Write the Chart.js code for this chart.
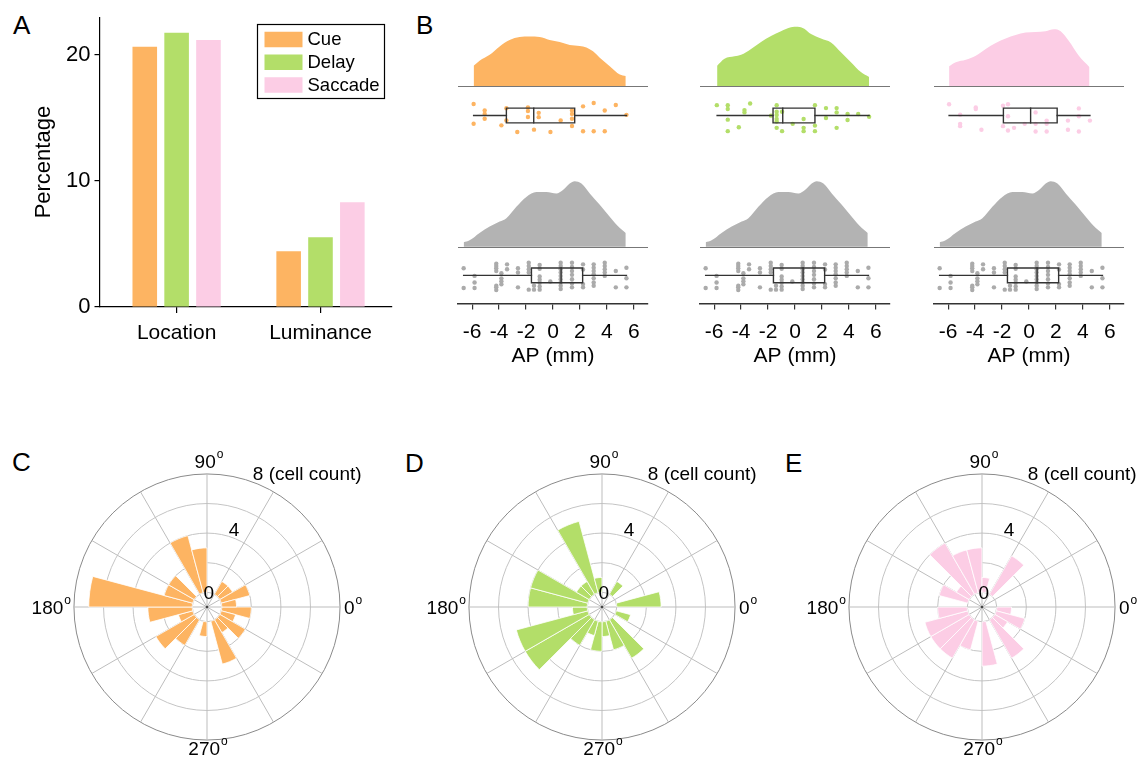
<!DOCTYPE html>
<html>
<head>
<meta charset="utf-8">
<script src="https://cdn.jsdelivr.net/npm/chart.js@4.4.1/dist/chart.umd.min.js"></script>
<style>
  html, body { margin: 0; padding: 0; background: #fff; }
  body { width: 1142px; height: 764px; position: relative; overflow: hidden;
         font-family: "Liberation Sans", Arial, sans-serif; }
  canvas { position: absolute; }
  .panel { position: absolute; font-size: 26px; line-height: 26px; color: #000; }
</style>
</head>
<body>
<div class="panel" style="left:13px;top:12px">A</div>
<div class="panel" style="left:416px;top:12px">B</div>
<div class="panel" style="left:12px;top:449px">C</div>
<div class="panel" style="left:405px;top:450px">D</div>
<div class="panel" style="left:785px;top:450px">E</div>

<canvas id="chartA" width="400" height="370" style="left:0;top:0"></canvas>
<canvas id="chartB1" width="240" height="370" style="left:433px;top:0"></canvas>
<canvas id="chartB2" width="240" height="370" style="left:675px;top:0"></canvas>
<canvas id="chartB3" width="240" height="370" style="left:909px;top:0"></canvas>
<canvas id="chartC" width="400" height="340" style="left:7px;top:437px"></canvas>
<canvas id="chartD" width="400" height="340" style="left:402px;top:437px"></canvas>
<canvas id="chartE" width="400" height="340" style="left:782px;top:437px"></canvas>

<script>
// ---------- A: share of tuned cells per epoch ----------
const tuningTypes = ['Location', 'Luminance'];
const epochNames = ['Cue', 'Delay', 'Saccade'];
const pctCue = [20.66, 4.42];
const pctDelay = [21.76, 5.53];
const pctSaccade = [21.2, 8.32];
const pctTicks = [0, 10, 20];

// ---------- B: AP position of tuned cells ----------
const apTicks = [-6, -4, -2, 0, 2, 4, 6];

const cueDensX = [-5.89, -5.45, -4.70, -3.96, -3.22, -2.48, -1.74, -0.99, -0.25, 0.50, 1.24, 1.98, 2.48, 2.97, 3.47, 4.21, 4.96, 5.40];
const cueDensY = [0.041, 0.051, 0.063, 0.080, 0.093, 0.099, 0.100, 0.099, 0.093, 0.089, 0.083, 0.081, 0.078, 0.070, 0.057, 0.040, 0.023, 0.020];
const delayDensX = [-5.78, -5.23, -4.49, -4.00, -3.26, -2.52, -1.78, -1.04, -0.30, 0.20, 0.69, 1.19, 1.93, 2.67, 3.41, 4.15, 4.89, 5.50];
const delayDensY = [0.041, 0.055, 0.060, 0.063, 0.075, 0.089, 0.101, 0.111, 0.119, 0.120, 0.116, 0.105, 0.096, 0.088, 0.068, 0.048, 0.028, 0.018];
const saccadeDensX = [-5.93, -5.43, -4.69, -3.95, -3.21, -2.47, -1.73, -0.99, -0.25, 0.49, 1.23, 1.85, 2.35, 2.96, 3.70, 4.49];
const saccadeDensY = [0.040, 0.048, 0.053, 0.061, 0.075, 0.087, 0.096, 0.103, 0.108, 0.109, 0.111, 0.115, 0.111, 0.091, 0.061, 0.038];
const allDensX = [-6.63, -6.19, -5.45, -4.70, -3.96, -3.46, -2.72, -1.98, -1.23, -0.49, 0.25, 0.74, 1.24, 1.61, 2.11, 2.73, 3.47, 4.21, 4.96, 5.40];
const allDensY = [0.009, 0.013, 0.028, 0.041, 0.051, 0.058, 0.081, 0.101, 0.111, 0.111, 0.108, 0.115, 0.128, 0.133, 0.128, 0.108, 0.085, 0.061, 0.038, 0.028];

// box stats: [lower whisker, Q1, median, Q3, upper whisker]
const cueBox = [-5.89, -3.46, -1.43, 1.61, 5.45];
const delayBox = [-5.78, -1.63, -0.91, 1.48, 5.50];
const saccadeBox = [-5.93, -1.90, 0.12, 2.09, 4.52];
const allBox = [-6.63, -1.60, 0.60, 2.20, 5.45];

// cell AP positions and vertical jitter (box half-height = 1)
const cueDotsX = [-5.89, -5.89, -5.07, -5.07, -5.07, -3.83, -3.46, -3.46, -2.65, -1.86, -1.86, -1.86, -1.41, -1.06, -1.06, -0.19, 0.57, 1.41, 1.41, 1.41, 1.41, 2.23, 2.23, 3.02, 3.02, 3.84, 3.84, 4.66, 5.45];
const cueDotsJ = [1.56, -1.11, 0.67, 0.22, -0.44, -1.33, 0.98, -0.67, -2.22, 1.1, 0.6, -0.2, -1.91, 0.36, -0.22, -2.22, -0.67, 0.67, 0.22, -0.44, -1.42, 1.24, -2.13, 1.69, -2.13, 0.67, -2.13, 1.42, 0.09];
const delayDotsX = [-5.80, -4.99, -4.99, -4.99, -4.99, -4.17, -3.75, -3.75, -3.33, -1.78, -1.36, -1.36, -1.36, -1.36, -1.36, -1.36, -0.96, -0.96, -0.17, 0.64, 0.64, 0.64, 1.48, 1.48, 1.48, 2.30, 2.30, 3.09, 3.09, 3.09, 3.90, 3.90, 4.69, 5.50];
const delayDotsJ = [1.4, 1.4, 0.87, -0.56, -2.11, -1.58, 0.73, 0.42, 1.62, -0.02, 1.4, 0.51, 0.07, -0.47, -0.82, -1.67, 0.51, -2.11, -1.13, -0.47, -1.67, -2.11, 1.4, -1.36, -2.11, 1.0, -0.33, 1.0, 0.42, -1.67, 0.2, -0.6, 0.2, -0.16];
const saccadeDotsX = [-5.93, -5.11, -5.11, -5.11, -3.95, -3.95, -3.53, -1.93, -1.93, -1.56, -1.56, -1.56, -1.11, -0.32, 0.49, 0.49, 0.49, 1.31, 1.31, 1.31, 2.89, 2.89, 3.70, 3.70, 3.70, 4.52];
const saccadeDotsJ = [1.53, 0.11, -1.13, -1.44, 1.09, 0.87, -1.93, 1.31, -1.44, 1.53, -0.11, -2.02, -1.67, -1.13, 0.42, -1.13, -2.16, -0.69, -1.13, -2.16, -0.69, -1.93, 0.96, -0.11, -2.16, -0.69];
const allDotsX = [-6.63, -6.63, -5.82, -5.82, -5.82, -4.21, -4.21, -4.21, -4.21, -4.21, -4.21, -4.21, -3.83, -3.83, -3.83, -3.83, -3.41, -3.41, -2.60, -2.60, -2.60, -1.80, -1.80, -1.80, -1.80, -1.80, -1.41, -1.41, -0.99, -0.99, -0.99, -0.99, -0.99, -0.99, -0.99, -0.20, 0.57, 0.57, 0.57, 0.57, 0.57, 0.57, 0.57, 0.57, 0.57, 1.41, 1.41, 1.41, 1.41, 1.41, 1.41, 1.41, 2.23, 2.23, 2.23, 2.23, 3.02, 3.02, 3.02, 3.02, 3.02, 3.02, 3.02, 3.84, 3.84, 3.84, 3.84, 3.84, 4.66, 4.66, 5.45, 5.45, 5.45];
const allDotsJ = [0.96, -1.71, -0.07, -0.96, -1.71, 1.58, 1.27, 0.96, 0.6, -1.4, -1.62, -1.98, 0.29, -0.4, -0.8, -1.2, 1.49, 0.82, 0.96, 0.38, -1.62, 1.71, 1.27, 0.82, 0.38, -1.93, -1.4, -1.93, 1.4, 0.9, -0.16, -0.6, -1.0, -1.5, -1.93, -0.82, 1.71, 1.27, 0.82, 0.38, -0.07, -0.51, -0.96, -1.4, -1.84, 1.71, 1.13, 0.6, 0.07, -0.51, -1.09, -1.62, 1.49, 0.8, -1.18, -1.62, 1.49, 1.04, 0.6, 0.16, -0.38, -0.96, -1.4, 1.71, 1.27, 0.82, 0.38, -0.07, 0.6, -1.62, 1.04, -0.38, -1.62];

// ---------- C-E: preferred direction histograms (15 deg bins, counter-clockwise from 0 deg) ----------
const binStarts = [0, 15, 30, 45, 60, 75, 90, 105, 120, 135, 150, 165, 180, 195, 210, 225, 240, 255, 270, 285, 300, 315, 330, 345];
const cueCounts = [1, 2, 1, 1, 0, 0, 3, 4, 0, 2, 2, 7, 3, 1, 3, 2, 0, 1, 0, 3, 1, 2, 1, 2];
const delayCounts = [3, 0, 0, 1, 0, 0, 1, 5, 1, 1, 4, 4, 1, 5, 5, 2, 1, 2, 1, 2, 3, 0, 1, 0];
const saccadeCounts = [0, 0, 0, 3, 0, 1, 3, 3, 4, 1, 2, 0, 2, 3, 3, 3, 2, 0, 3, 0, 3, 1, 2, 1];
const ringValues = [-1, 0, 2, 4, 6, 8];
const ringLabels = [0, 4, 8];
const spokeAngles = [0, 30, 60, 90, 120, 150, 180, 210, 240, 270, 300, 330];
const directionLabels = ['0', '90', '180', '270'];

const COLORS = { cue: '#FDB462', delay: '#B3DE69', saccade: '#FCCDE5', all: '#B3B3B3', allDots: '#ABABAB' };
const FONT = '"Liberation Sans", Arial, sans-serif';
Chart.defaults.font.family = FONT;
Chart.defaults.color = '#000';

// ================= Panel A =================
const epochLegend = {
  id: 'epochLegend',
  afterDraw(chart) {
    const ctx = chart.ctx;
    ctx.save();
    ctx.strokeStyle = '#000';
    ctx.lineWidth = 1.2;
    ctx.strokeRect(257.5, 24.5, 127, 74);
    ctx.font = '18.5px ' + FONT;
    ctx.textBaseline = 'middle';
    chart.data.datasets.forEach((ds, i) => {
      const yc = 39.5 + i * 22.75;
      ctx.fillStyle = ds.backgroundColor;
      ctx.fillRect(264.5, yc - 7.75, 38, 15.5);
      ctx.fillStyle = '#000';
      ctx.fillText(ds.label, 307.5, yc + 0.5);
    });
    ctx.restore();
  }
};

new Chart(document.getElementById('chartA'), {
  type: 'bar',
  data: {
    datasets: [
      { label: epochNames[0], data: pctCue.map((v, i) => ({ x: i + 1, y: v })), backgroundColor: COLORS.cue },
      { label: epochNames[1], data: pctDelay.map((v, i) => ({ x: i + 1, y: v })), backgroundColor: COLORS.delay },
      { label: epochNames[2], data: pctSaccade.map((v, i) => ({ x: i + 1, y: v })), backgroundColor: COLORS.saccade }
    ]
  },
  options: {
    responsive: false, animation: false, events: [],
    layout: { padding: { top: 15, right: 8, left: 0, bottom: 0 } },
    datasets: { bar: { categoryPercentage: 0.664, barPercentage: 0.772 } },
    plugins: { legend: { display: false }, tooltip: { enabled: false } },
    scales: {
      x: {
        type: 'linear', min: 0.464, max: 2.497, offset: false,
        afterBuildTicks: s => { s.ticks = tuningTypes.map((t, i) => ({ value: i + 1 })); },
        ticks: { callback: v => tuningTypes[v - 1], font: { size: 21 }, color: '#000', padding: 8, maxRotation: 0 },
        grid: { drawOnChartArea: false, offset: false, tickLength: 6, color: '#000', lineWidth: 1.2 },
        border: { color: '#000', width: 1.2 },
        afterFit: s => { s.height = 63; }
      },
      y: {
        min: 0, max: 23,
        afterBuildTicks: s => { s.ticks = pctTicks.map(v => ({ value: v })); },
        ticks: { font: { size: 22 }, color: '#000', padding: 4 },
        grid: { drawOnChartArea: false, tickLength: 5, color: '#000', lineWidth: 1.2 },
        border: { color: '#000', width: 1.2 },
        title: { display: true, text: 'Percentage', font: { size: 22 }, color: '#000', padding: { top: 31, bottom: 0 } },
        afterFit: s => { s.width = 99.5; }
      }
    }
  },
  plugins: [epochLegend]
});

// ================= Panel B =================
const B_LAYOUT = { dens1: 83, strip1: 113, dens2: 246, strip2: 275, axisY: 303.5, height: 370, densPx: 500, jitterPx: 7.5 };

// hidden y scale whose value 0 sits at pixel p0 (chart area top = 0) with k px per unit
function placedScale(p0, k) {
  return { type: 'linear', display: false, min: -(B_LAYOUT.axisY - p0) / k, max: p0 / k };
}

function boxParts(stats, yAxisID) {
  const [lo, q1, med, q3, hi] = stats;
  const seg = pts => ({
    type: 'line', yAxisID, data: pts, borderColor: '#333', borderWidth: 1.4,
    pointRadius: 0, fill: false, tension: 0, order: 0, borderJoinStyle: 'miter', borderCapStyle: 'square'
  });
  return [
    seg([{ x: q1, y: -1 }, { x: q3, y: -1 }, { x: q3, y: 1 }, { x: q1, y: 1 }, { x: q1, y: -1 }]),
    seg([{ x: med, y: -1 }, { x: med, y: 1 }]),
    seg([{ x: lo, y: 0 }, { x: q1, y: 0 }]),
    seg([{ x: q3, y: 0 }, { x: hi, y: 0 }])
  ];
}

function densitySet(xs, ys, color, yAxisID) {
  return {
    type: 'line', yAxisID, data: xs.map((x, i) => ({ x, y: ys[i] })),
    fill: 'origin', backgroundColor: color, borderWidth: 0, pointRadius: 0,
    cubicInterpolationMode: 'monotone', order: 3
  };
}

function dotSet(xs, js, color, yAxisID) {
  return {
    type: 'scatter', yAxisID, data: xs.map((x, i) => ({ x, y: js[i] })),
    pointRadius: 2.2, backgroundColor: color, borderWidth: 0, order: 1
  };
}

const densityBaselines = {
  id: 'densityBaselines',
  beforeDatasetsDraw(chart) {
    const { ctx, chartArea, scales } = chart;
    ctx.save();
    ctx.strokeStyle = '#777';
    ctx.lineWidth = 1.2;
    ['yd1', 'yd2'].forEach(id => {
      const y = Math.round(scales[id].getPixelForValue(0)) + 0.5;
      ctx.beginPath();
      ctx.moveTo(chartArea.left, y);
      ctx.lineTo(chartArea.right, y);
      ctx.stroke();
    });
    ctx.restore();
  }
};

function apColumn(id, group) {
  new Chart(document.getElementById(id), {
    type: 'line',
    data: {
      datasets: [
        densitySet(group.densX, group.densY, group.color, 'yd1'),
        ...boxParts(group.box, 'ys1'),
        dotSet(group.dotsX, group.dotsJ, group.color, 'ys1'),
        densitySet(allDensX, allDensY, COLORS.all, 'yd2'),
        ...boxParts(allBox, 'ys2'),
        dotSet(allDotsX, allDotsJ, COLORS.allDots, 'ys2')
      ]
    },
    options: {
      responsive: false, animation: false, events: [],
      layout: { padding: { left: 25, right: 25, top: 0, bottom: 0 } },
      plugins: { legend: { display: false }, tooltip: { enabled: false } },
      scales: {
        x: {
          type: 'linear', min: -7.05, max: 7.05,
          afterBuildTicks: s => { s.ticks = apTicks.map(v => ({ value: v })); },
          ticks: { font: { size: 21 }, color: '#000', padding: 10, maxRotation: 0 },
          grid: { drawOnChartArea: false, tickLength: 6, color: '#333', lineWidth: 1.2 },
          border: { color: '#333', width: 1.4 },
          title: { display: true, text: 'AP (mm)', font: { size: 21 }, color: '#000', padding: { top: 0, bottom: 1 } },
          afterFit: s => { s.height = B_LAYOUT.height - B_LAYOUT.axisY; }
        },
        yd1: placedScale(B_LAYOUT.dens1, B_LAYOUT.densPx),
        ys1: placedScale(B_LAYOUT.strip1, B_LAYOUT.jitterPx),
        yd2: placedScale(B_LAYOUT.dens2, B_LAYOUT.densPx),
        ys2: placedScale(B_LAYOUT.strip2, B_LAYOUT.jitterPx)
      }
    },
    plugins: [densityBaselines]
  });
}

apColumn('chartB1', { densX: cueDensX, densY: cueDensY, box: cueBox, dotsX: cueDotsX, dotsJ: cueDotsJ, color: COLORS.cue });
apColumn('chartB2', { densX: delayDensX, densY: delayDensY, box: delayBox, dotsX: delayDotsX, dotsJ: delayDotsJ, color: COLORS.delay });
apColumn('chartB3', { densX: saccadeDensX, densY: saccadeDensY, box: saccadeBox, dotsX: saccadeDotsX, dotsJ: saccadeDotsJ, color: COLORS.saccade });

// ================= Panels C-E =================
function degreeLabel(ctx, text, x, y, align) {
  ctx.font = '19px ' + FONT;
  const w = ctx.measureText(text).width;
  ctx.font = '12px ' + FONT;
  const wo = ctx.measureText('o').width;
  const total = w + wo + 1;
  let x0 = x;
  if (align === 'center') x0 = x - total / 2;
  else if (align === 'right') x0 = x - total;
  ctx.textAlign = 'left';
  ctx.textBaseline = 'middle';
  ctx.font = '19px ' + FONT;
  ctx.fillText(text, x0, y);
  ctx.font = '12px ' + FONT;
  ctx.fillText('o', x0 + w + 1, y - 8);
}

const polarDecor = {
  id: 'polarDecor',
  afterDatasetsUpdate(chart) {
    const s = chart.scales.r;
    const r0 = s.getDistanceFromCenterForValue(0);
    chart.getDatasetMeta(0).data.forEach(arc => { arc.innerRadius = r0; });
  },
  beforeDatasetsDraw(chart) {
    const { ctx } = chart;
    const s = chart.scales.r;
    const R = s.getDistanceFromCenterForValue(8);
    ctx.save();
    ctx.strokeStyle = '#bdbdbd';
    ctx.lineWidth = 1;
    spokeAngles.forEach(a => {
      const t = a * Math.PI / 180;
      ctx.beginPath();
      ctx.moveTo(s.xCenter, s.yCenter);
      ctx.lineTo(s.xCenter + R * Math.cos(t), s.yCenter - R * Math.sin(t));
      ctx.stroke();
    });
    ctx.restore();
  },
  afterDraw(chart) {
    const { ctx } = chart;
    const s = chart.scales.r;
    const cx = s.xCenter, cy = s.yCenter;
    const R = s.getDistanceFromCenterForValue(8);
    ctx.save();
    ctx.fillStyle = '#444';
    ctx.beginPath();
    ctx.arc(cx, cy, 1.3, 0, Math.PI * 2);
    ctx.fill();
    ctx.fillStyle = '#000';
    degreeLabel(ctx, directionLabels[1], cx + 2, cy - R - 11, 'center');
    degreeLabel(ctx, directionLabels[3], cx + 1, cy + R + 10, 'center');
    degreeLabel(ctx, directionLabels[2], cx - R - 3, cy + 2, 'right');
    degreeLabel(ctx, directionLabels[0], cx + R + 4, cy + 2, 'left');
    // radial count labels placed along the 68 deg direction
    const t = 68 * Math.PI / 180;
    const shift = { 0: [-9, 0], 4: [-6, -8], 8: [-4, -9] };
    ctx.font = '19px ' + FONT;
    ctx.textAlign = 'left';
    ctx.textBaseline = 'middle';
    ringLabels.forEach(v => {
      const r = s.getDistanceFromCenterForValue(v);
      const txt = v === 8 ? '8 (cell count)' : String(v);
      ctx.fillText(txt, cx + r * Math.cos(t) + shift[v][0], cy - r * Math.sin(t) + shift[v][1]);
    });
    ctx.restore();
  }
};

function directionRose(id, counts, color) {
  // the radial scale runs clockwise from 3 o'clock, so bins are fed in reverse order
  const clockwise = counts.slice().reverse();
  const labels = binStarts.slice().reverse().map(a => a + '°');
  new Chart(document.getElementById(id), {
    type: 'polarArea',
    data: {
      labels,
      datasets: [{
        data: clockwise, backgroundColor: color, borderColor: '#fff',
        borderWidth: ctx => (ctx.raw > 0 ? 0.8 : 0), borderAlign: 'center'
      }]
    },
    options: {
      responsive: false, animation: false, events: [],
      layout: { padding: 0 },
      plugins: { legend: { display: false }, tooltip: { enabled: false } },
      scales: {
        r: {
          min: -1, max: 10.5, startAngle: 90,
          afterBuildTicks: s => { s.ticks = ringValues.map(v => ({ value: v })); },
          ticks: { display: false },
          grid: { circular: true, lineWidth: 1, color: c => (c.tick && c.tick.value === 8 ? '#8a8a8a' : '#c4c4c4') },
          angleLines: { display: false },
          pointLabels: { display: false }
        }
      }
    },
    plugins: [polarDecor]
  });
}

directionRose('chartC', cueCounts, COLORS.cue);
directionRose('chartD', delayCounts, COLORS.delay);
directionRose('chartE', saccadeCounts, COLORS.saccade);
</script>
</body>
</html>
